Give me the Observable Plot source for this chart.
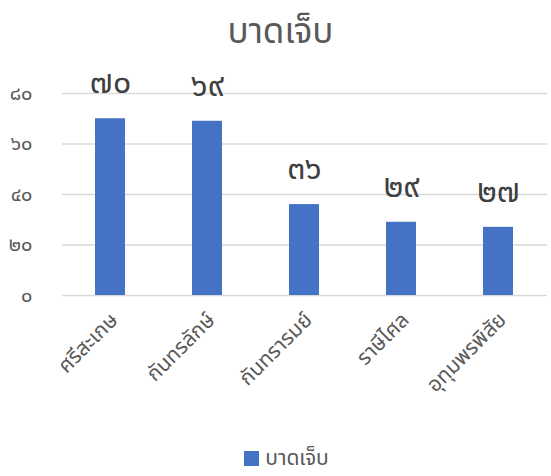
<!DOCTYPE html>
<html>
<head>
<meta charset="utf-8">
<script src="https://cdn.jsdelivr.net/npm/d3@7"></script>
<script src="https://cdn.jsdelivr.net/npm/@observablehq/plot@0.6"></script>
<style>
  body { margin: 0; background: #fff; font-family: "Noto Sans Thai", "Leelawadee UI", "Tahoma", sans-serif; }
  #wrap { width: 551px; }
  #title { height: 60px; line-height: 66px; text-align: center; font-size: 35px; color: #595959; padding-left: 10px; }
  #legend { height: 36px; display: flex; justify-content: center; align-items: center; font-size: 21px; color: #595959; padding-left: 22px; }
  #legend .sw { width: 15px; height: 15px; background: #4472C4; margin-right: 6px; }
</style>
</head>
<body>
<div id="wrap">
  <div id="title">บาดเจ็บ</div>
  <div id="chart"></div>
  <div id="legend"><span class="sw"></span><span>บาดเจ็บ</span></div>
</div>
<script>
const categories = ["ศรีสะเกษ", "กันทรลักษ์", "กันทรารมย์", "ราษีไศล", "อุทุมพรพิสัย"];
const values = [70, 69, 36, 29, 27];
const valueLabels = ["๗๐", "๖๙", "๓๖", "๒๙", "๒๗"];
const yTicks = [0, 20, 40, 60, 80];
const yTickLabels = ["๐", "๒๐", "๔๐", "๖๐", "๘๐"];

const data = categories.map((c, i) => ({category: c, value: values[i], label: valueLabels[i]}));
const font = '"Noto Sans Thai", "Leelawadee UI", Tahoma, sans-serif';

const chart = Plot.plot({
  width: 551,
  height: 380,
  marginTop: 33,
  marginBottom: 145,
  marginLeft: 62,
  marginRight: 4,
  style: {fontFamily: font, background: "#fff"},
  x: {domain: categories, paddingInner: 0.69, paddingOuter: 0.345, label: null},
  y: {domain: [0, 80], label: null},
  marks: [
    Plot.gridY(yTicks, {stroke: "#d9d9d9", strokeOpacity: 1, strokeWidth: 1.3}),
    Plot.axisY(yTicks, {
      tickSize: 0, tickPadding: 30, fontSize: 20, fill: "#595959",
      tickFormat: (d) => yTickLabels[yTicks.indexOf(d)], label: null
    }),
    Plot.axisX({
      tickSize: 0, tickRotate: -45, tickPadding: 18, dx: 4, dy: 3, fontSize: 21, fill: "#595959", label: null
    }),
    Plot.barY(data, {x: "category", y: "value", fill: "#4472C4"}),
    Plot.text(data, {x: "category", y: "value", text: "label", dy: -36, fontSize: 32, fill: "#404040"})
  ]
});
document.getElementById("chart").appendChild(chart);
</script>
</body>
</html>
